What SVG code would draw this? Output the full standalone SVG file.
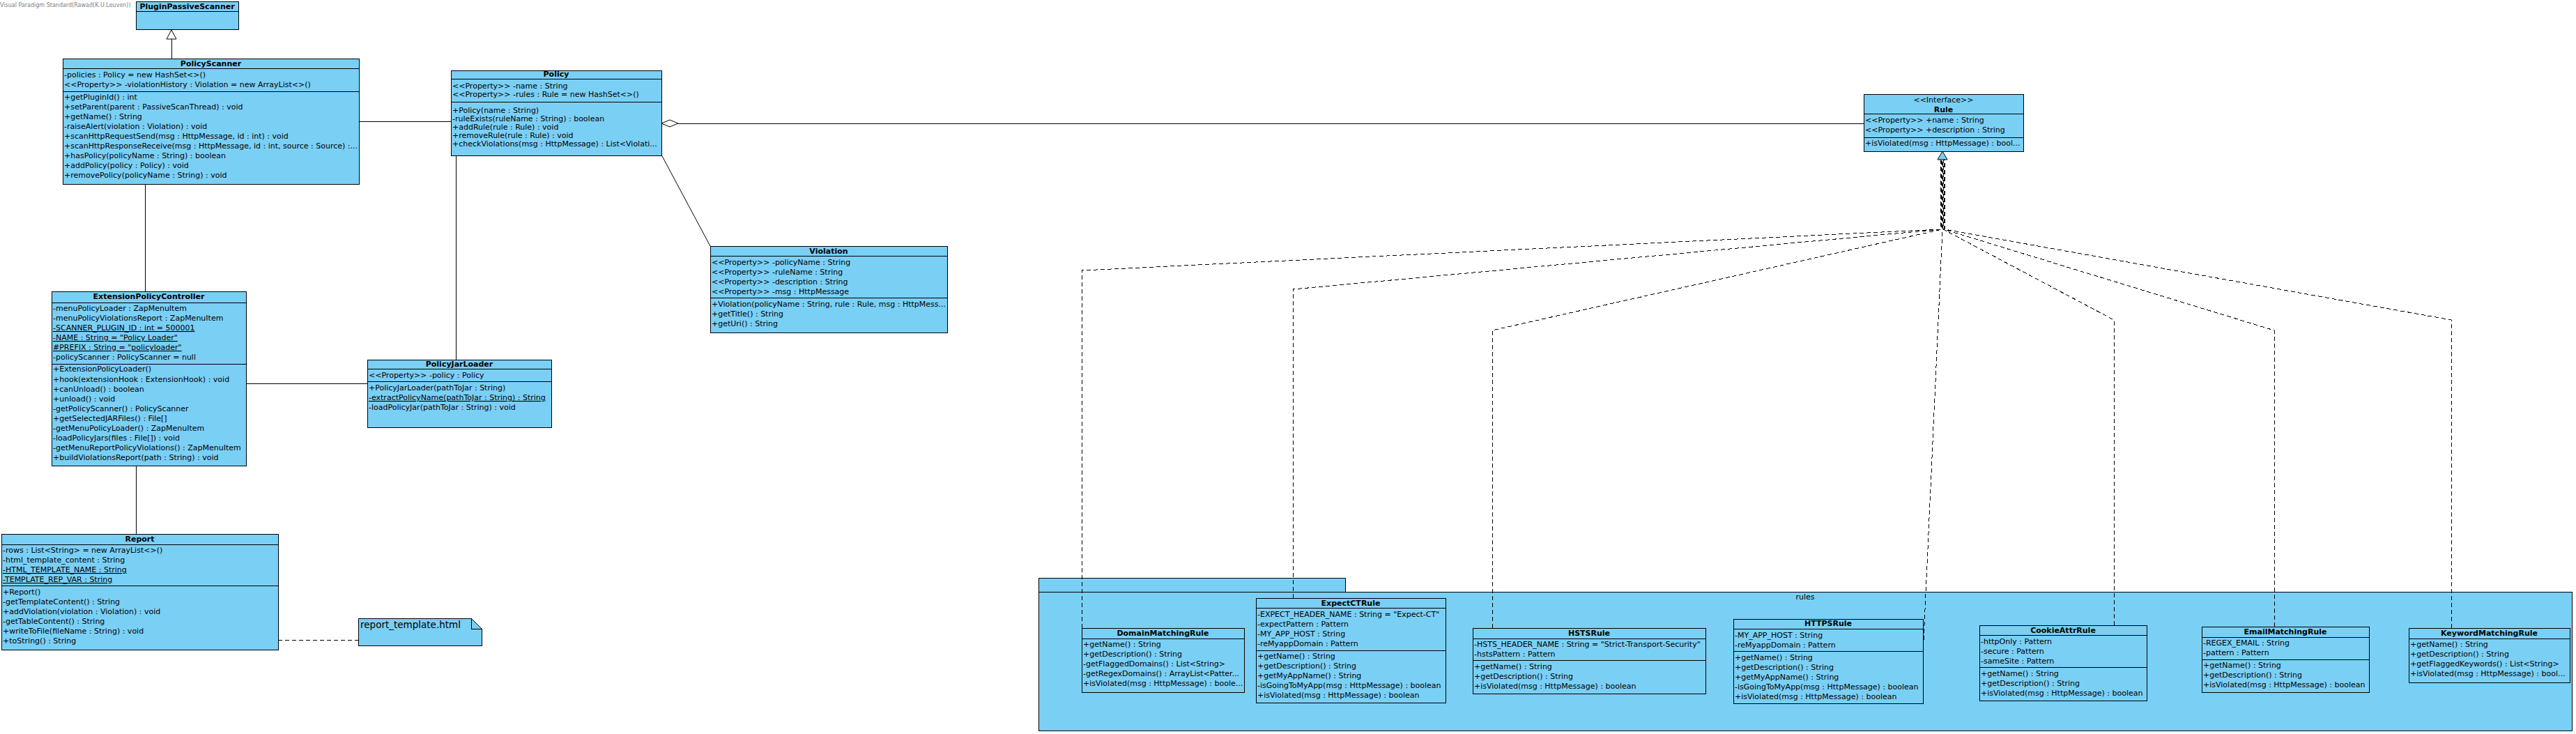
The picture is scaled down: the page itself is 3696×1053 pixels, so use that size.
<svg xmlns="http://www.w3.org/2000/svg" width="3696" height="1053" viewBox="0 0 3696 1053">
<style>
  .box { fill: #7ACFF5; stroke: #000; stroke-width: 1; shape-rendering: crispEdges; }
  .ln { stroke: #000; stroke-width: 1; fill: none; shape-rendering: crispEdges; }
  .dl { stroke: #000; stroke-width: 1; fill: none; }
  .dash { stroke: #000; stroke-width: 1; fill: none; stroke-dasharray: 6,4; shape-rendering: crispEdges; }
  text { font-family: "DejaVu Sans", "Liberation Sans", sans-serif; font-size: 11px; fill: #000; }
  .h { font-weight: bold; text-anchor: middle; }
  .c { text-anchor: middle; }
  .u { text-decoration: underline; }
  .wm { font-size: 8px; fill: #808080; }
</style>
<rect x="0" y="0" width="3696" height="1053" fill="#fff"/>
<text class="wm" x="0" y="10">Visual Paradigm Standard(Rawad(K.U.Leuven))</text>

<g id="pkg-rules">
  <rect class="box" x="1490" y="829" width="440" height="20"/>
  <rect class="box" x="1490" y="849" width="2200" height="199"/>
  <text class="c" x="2590" y="860">rules</text>
</g>

<g id="connectors">
  <line class="ln" x1="246" y1="84" x2="246" y2="56"/>
  <polygon points="246,43 239,56 253,56" fill="#fff" stroke="#000"/>
  <line class="ln" x1="515" y1="174" x2="647" y2="174"/>
  <line class="ln" x1="208" y1="264" x2="208" y2="418"/>
  <polygon points="949,177 961,172 973,177 961,182" fill="#fff" stroke="#000"/>
  <line class="ln" x1="973" y1="177" x2="2674" y2="177"/>
  <line class="dl" x1="949" y1="222" x2="1019" y2="353"/>
  <line class="ln" x1="654" y1="223" x2="654" y2="516"/>
  <line class="ln" x1="353" y1="550" x2="527" y2="550"/>
  <line class="ln" x1="195" y1="668" x2="195" y2="766"/>
  <line class="dash" x1="399" y1="918" x2="514" y2="918" stroke-dasharray="4,3"/>
  <polyline class="dash" points="1552,901 1552,388 2784,329 2784,229"/>
  <polyline class="dash" points="1855,858 1855,415 2785,329 2785,229"/>
  <polyline class="dash" points="2141,901 2141,474 2786,329 2786,229"/>
  <polyline class="dash" points="2760,918 2787,329 2787,229"/>
  <polyline class="dash" points="3033,897 3033,459 2788,329 2788,229"/>
  <polyline class="dash" points="3263,899 3263,474 2789,329 2789,229"/>
  <polyline class="dash" points="3517,901 3517,459 2790,329 2790,229"/>
  <polygon points="2787,217 2780,229 2794,229" fill="#7ACFF5" stroke="#000"/>
</g>

<g id="PluginPassiveScanner">
  <rect class="box" x="195" y="2" width="147" height="40"/>
  <line class="ln" x1="195" y1="16" x2="342" y2="16"/>
  <text class="h" x="268.5" y="13">PluginPassiveScanner</text>
</g>

<g id="PolicyScanner">
  <rect class="box" x="90" y="84" width="425" height="180"/>
  <line class="ln" x1="90" y1="98" x2="515" y2="98"/>
  <line class="ln" x1="90" y1="131" x2="515" y2="131"/>
  <text class="h" x="302.5" y="95">PolicyScanner</text>
  <text x="92" y="111">-policies : Policy = new HashSet&lt;&gt;()</text>
  <text x="92" y="125">&lt;&lt;Property&gt;&gt; -violationHistory : Violation = new ArrayList&lt;&gt;()</text>
  <text x="92" y="143">+getPluginId() : int</text>
  <text x="92" y="157">+setParent(parent : PassiveScanThread) : void</text>
  <text x="92" y="171">+getName() : String</text>
  <text x="92" y="185">-raiseAlert(violation : Violation) : void</text>
  <text x="92" y="199">+scanHttpRequestSend(msg : HttpMessage, id : int) : void</text>
  <text x="92" y="213">+scanHttpResponseReceive(msg : HttpMessage, id : int, source : Source) :...</text>
  <text x="92" y="227">+hasPolicy(policyName : String) : boolean</text>
  <text x="92" y="241">+addPolicy(policy : Policy) : void</text>
  <text x="92" y="255">+removePolicy(policyName : String) : void</text>
</g>

<g id="Policy">
  <rect class="box" x="647" y="101" width="302" height="122"/>
  <line class="ln" x1="647" y1="113" x2="949" y2="113"/>
  <line class="ln" x1="647" y1="146" x2="949" y2="146"/>
  <text class="h" x="798" y="110">Policy</text>
  <text x="649" y="127">&lt;&lt;Property&gt;&gt; -name : String</text>
  <text x="649" y="139">&lt;&lt;Property&gt;&gt; -rules : Rule = new HashSet&lt;&gt;()</text>
  <text x="649" y="162">+Policy(name : String)</text>
  <text x="649" y="174">-ruleExists(ruleName : String) : boolean</text>
  <text x="649" y="186">+addRule(rule : Rule) : void</text>
  <text x="649" y="198">+removeRule(rule : Rule) : void</text>
  <text x="649" y="210">+checkViolations(msg : HttpMessage) : List&lt;Violati...</text>
</g>

<g id="Rule">
  <rect class="box" x="2674" y="135" width="229" height="82"/>
  <line class="ln" x1="2674" y1="163" x2="2903" y2="163"/>
  <line class="ln" x1="2674" y1="197" x2="2903" y2="197"/>
  <text class="c" x="2788.5" y="147">&lt;&lt;Interface&gt;&gt;</text>
  <text class="h" x="2788.5" y="161">Rule</text>
  <text x="2676" y="176">&lt;&lt;Property&gt;&gt; +name : String</text>
  <text x="2676" y="190">&lt;&lt;Property&gt;&gt; +description : String</text>
  <text x="2676" y="209">+isViolated(msg : HttpMessage) : bool...</text>
</g>

<g id="Violation">
  <rect class="box" x="1019" y="353" width="340" height="124"/>
  <line class="ln" x1="1019" y1="367" x2="1359" y2="367"/>
  <line class="ln" x1="1019" y1="427" x2="1359" y2="427"/>
  <text class="h" x="1189" y="364">Violation</text>
  <text x="1021" y="380">&lt;&lt;Property&gt;&gt; -policyName : String</text>
  <text x="1021" y="394">&lt;&lt;Property&gt;&gt; -ruleName : String</text>
  <text x="1021" y="408">&lt;&lt;Property&gt;&gt; -description : String</text>
  <text x="1021" y="422">&lt;&lt;Property&gt;&gt; -msg : HttpMessage</text>
  <text x="1021" y="440">+Violation(policyName : String, rule : Rule, msg : HttpMess...</text>
  <text x="1021" y="454">+getTitle() : String</text>
  <text x="1021" y="468">+getUri() : String</text>
</g>

<g id="ExtensionPolicyController">
  <rect class="box" x="74" y="418" width="279" height="250"/>
  <line class="ln" x1="74" y1="434" x2="353" y2="434"/>
  <line class="ln" x1="74" y1="522" x2="353" y2="522"/>
  <text class="h" x="213.5" y="429">ExtensionPolicyController</text>
  <text x="76" y="446">-menuPolicyLoader : ZapMenuItem</text>
  <text x="76" y="460">-menuPolicyViolationsReport : ZapMenuItem</text>
  <text class="u" x="76" y="474">-SCANNER_PLUGIN_ID : int = 500001</text>
  <text class="u" x="76" y="488">-NAME : String = "Policy Loader"</text>
  <text class="u" x="76" y="502">#PREFIX : String = "policyloader"</text>
  <text x="76" y="516">-policyScanner : PolicyScanner = null</text>
  <text x="76" y="533">+ExtensionPolicyLoader()</text>
  <text x="76" y="548">+hook(extensionHook : ExtensionHook) : void</text>
  <text x="76" y="562">+canUnload() : boolean</text>
  <text x="76" y="576">+unload() : void</text>
  <text x="76" y="590">-getPolicyScanner() : PolicyScanner</text>
  <text x="76" y="604">+getSelectedJARFiles() : File[]</text>
  <text x="76" y="618">-getMenuPolicyLoader() : ZapMenuItem</text>
  <text x="76" y="632">-loadPolicyJars(files : File[]) : void</text>
  <text x="76" y="646">-getMenuReportPolicyViolations() : ZapMenuItem</text>
  <text x="76" y="660">+buildViolationsReport(path : String) : void</text>
</g>

<g id="PolicyJarLoader">
  <rect class="box" x="527" y="516" width="264" height="97"/>
  <line class="ln" x1="527" y1="529" x2="791" y2="529"/>
  <line class="ln" x1="527" y1="547" x2="791" y2="547"/>
  <text class="h" x="659" y="526">PolicyJarLoader</text>
  <text x="529" y="542">&lt;&lt;Property&gt;&gt; -policy : Policy</text>
  <text x="529" y="560">+PolicyJarLoader(pathToJar : String)</text>
  <text class="u" x="529" y="574">-extractPolicyName(pathToJar : String) : String</text>
  <text x="529" y="588">-loadPolicyJar(pathToJar : String) : void</text>
</g>

<g id="Report">
  <rect class="box" x="2" y="766" width="397" height="166"/>
  <line class="ln" x1="2" y1="781" x2="399" y2="781"/>
  <line class="ln" x1="2" y1="840" x2="399" y2="840"/>
  <text class="h" x="200.5" y="777">Report</text>
  <text x="4" y="793">-rows : List&lt;String&gt; = new ArrayList&lt;&gt;()</text>
  <text x="4" y="807">-html_template_content : String</text>
  <text class="u" x="4" y="821">-HTML_TEMPLATE_NAME : String</text>
  <text class="u" x="4" y="835">-TEMPLATE_REP_VAR : String</text>
  <text x="4" y="853">+Report()</text>
  <text x="4" y="867">-getTemplateContent() : String</text>
  <text x="4" y="881">+addViolation(violation : Violation) : void</text>
  <text x="4" y="895">-getTableContent() : String</text>
  <text x="4" y="909">+writeToFile(fileName : String) : void</text>
  <text x="4" y="923">+toString() : String</text>
</g>

<g id="report_template">
  <polygon class="box" points="514,887 676,887 691,902 691,926 514,926"/>
  <polyline class="ln" points="676,887 676,902 691,902"/>
  <text x="517" y="901" style="font-size:13.5px">report_template.html</text>
</g>

<g id="DomainMatchingRule">
  <rect class="box" x="1552" y="901" width="233" height="92"/>
  <line class="ln" x1="1552" y1="916" x2="1785" y2="916"/>
  <text class="h" x="1668.5" y="912">DomainMatchingRule</text>
  <text x="1554" y="928">+getName() : String</text>
  <text x="1554" y="942">+getDescription() : String</text>
  <text x="1554" y="956">-getFlaggedDomains() : List&lt;String&gt;</text>
  <text x="1554" y="970">-getRegexDomains() : ArrayList&lt;Patter...</text>
  <text x="1554" y="984">+isViolated(msg : HttpMessage) : boole...</text>
</g>

<g id="ExpectCTRule">
  <rect class="box" x="1802" y="858" width="272" height="150"/>
  <line class="ln" x1="1802" y1="872" x2="2074" y2="872"/>
  <line class="ln" x1="1802" y1="933" x2="2074" y2="933"/>
  <text class="h" x="1938" y="869">ExpectCTRule</text>
  <text x="1804" y="885">-EXPECT_HEADER_NAME : String = "Expect-CT"</text>
  <text x="1804" y="899">-expectPattern : Pattern</text>
  <text x="1804" y="913">-MY_APP_HOST : String</text>
  <text x="1804" y="927">-reMyappDomain : Pattern</text>
  <text x="1804" y="945">+getName() : String</text>
  <text x="1804" y="959">+getDescription() : String</text>
  <text x="1804" y="973">+getMyAppName() : String</text>
  <text x="1804" y="987">-isGoingToMyApp(msg : HttpMessage) : boolean</text>
  <text x="1804" y="1001">+isViolated(msg : HttpMessage) : boolean</text>
</g>

<g id="HSTSRule">
  <rect class="box" x="2113" y="901" width="334" height="94"/>
  <line class="ln" x1="2113" y1="916" x2="2447" y2="916"/>
  <line class="ln" x1="2113" y1="947" x2="2447" y2="947"/>
  <text class="h" x="2280" y="912">HSTSRule</text>
  <text x="2115" y="928">-HSTS_HEADER_NAME : String = "Strict-Transport-Security"</text>
  <text x="2115" y="942">-hstsPattern : Pattern</text>
  <text x="2115" y="960">+getName() : String</text>
  <text x="2115" y="974">+getDescription() : String</text>
  <text x="2115" y="988">+isViolated(msg : HttpMessage) : boolean</text>
</g>

<g id="HTTPSRule">
  <rect class="box" x="2487" y="888" width="272" height="121"/>
  <line class="ln" x1="2487" y1="902" x2="2759" y2="902"/>
  <line class="ln" x1="2487" y1="934" x2="2759" y2="934"/>
  <text class="h" x="2623" y="898">HTTPSRule</text>
  <text x="2489" y="915">-MY_APP_HOST : String</text>
  <text x="2489" y="929">-reMyappDomain : Pattern</text>
  <text x="2489" y="947">+getName() : String</text>
  <text x="2489" y="961">+getDescription() : String</text>
  <text x="2489" y="975">+getMyAppName() : String</text>
  <text x="2489" y="989">-isGoingToMyApp(msg : HttpMessage) : boolean</text>
  <text x="2489" y="1003">+isViolated(msg : HttpMessage) : boolean</text>
</g>

<g id="CookieAttrRule">
  <rect class="box" x="2840" y="897" width="240" height="108"/>
  <line class="ln" x1="2840" y1="911" x2="3080" y2="911"/>
  <line class="ln" x1="2840" y1="957" x2="3080" y2="957"/>
  <text class="h" x="2960" y="908">CookieAttrRule</text>
  <text x="2842" y="924">-httpOnly : Pattern</text>
  <text x="2842" y="938">-secure : Pattern</text>
  <text x="2842" y="952">-sameSite : Pattern</text>
  <text x="2842" y="970">+getName() : String</text>
  <text x="2842" y="984">+getDescription() : String</text>
  <text x="2842" y="998">+isViolated(msg : HttpMessage) : boolean</text>
</g>

<g id="EmailMatchingRule">
  <rect class="box" x="3159" y="899" width="240" height="94"/>
  <line class="ln" x1="3159" y1="914" x2="3399" y2="914"/>
  <line class="ln" x1="3159" y1="946" x2="3399" y2="946"/>
  <text class="h" x="3279" y="910">EmailMatchingRule</text>
  <text x="3161" y="926">-REGEX_EMAIL : String</text>
  <text x="3161" y="940">-pattern : Pattern</text>
  <text x="3161" y="958">+getName() : String</text>
  <text x="3161" y="972">+getDescription() : String</text>
  <text x="3161" y="986">+isViolated(msg : HttpMessage) : boolean</text>
</g>

<g id="KeywordMatchingRule">
  <rect class="box" x="3456" y="901" width="231" height="78"/>
  <line class="ln" x1="3456" y1="916" x2="3687" y2="916"/>
  <text class="h" x="3571.5" y="912">KeywordMatchingRule</text>
  <text x="3458" y="928">+getName() : String</text>
  <text x="3458" y="942">+getDescription() : String</text>
  <text x="3458" y="956">+getFlaggedKeywords() : List&lt;String&gt;</text>
  <text x="3458" y="970">+isViolated(msg : HttpMessage) : bool...</text>
</g>
</svg>
